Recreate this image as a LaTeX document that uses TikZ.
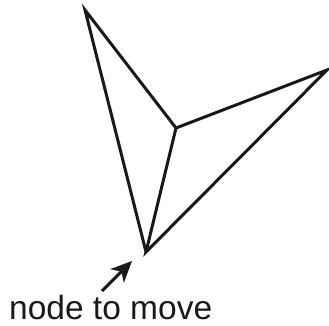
\documentclass[tikz,border=0pt]{standalone}
\usepackage{fontspec}
\setmainfont{Liberation Sans}
\usetikzlibrary{arrows.meta}
\begin{document}
\begin{tikzpicture}[x=1pt,y=-1pt,
  edge/.style={line width=3pt,line join=miter,line cap=butt,color=black!90},
  pointer/.style={line width=3pt,color=black!90,-{Stealth[length=21pt,width=19pt,inset=6pt]}}]
\useasboundingbox (0,0) rectangle (329,326);
\coordinate (top) at (85,10);
\coordinate (mid) at (176,128);
\coordinate (right) at (327,70);
\coordinate (bot) at (146,252);
\draw[edge] (bot) -- (top) -- (mid) -- (right) -- (bot) -- (mid);
\coordinate (tail) at (102,291);
\coordinate (tip) at (132,261);
\draw[pointer] (tail) -- (tip);
\node[anchor=base west,inner sep=0pt,font=\fontsize{33.5}{40}\selectfont,text=black!90] (label) at (9,319) {node to move};
\end{tikzpicture}
\end{document}
